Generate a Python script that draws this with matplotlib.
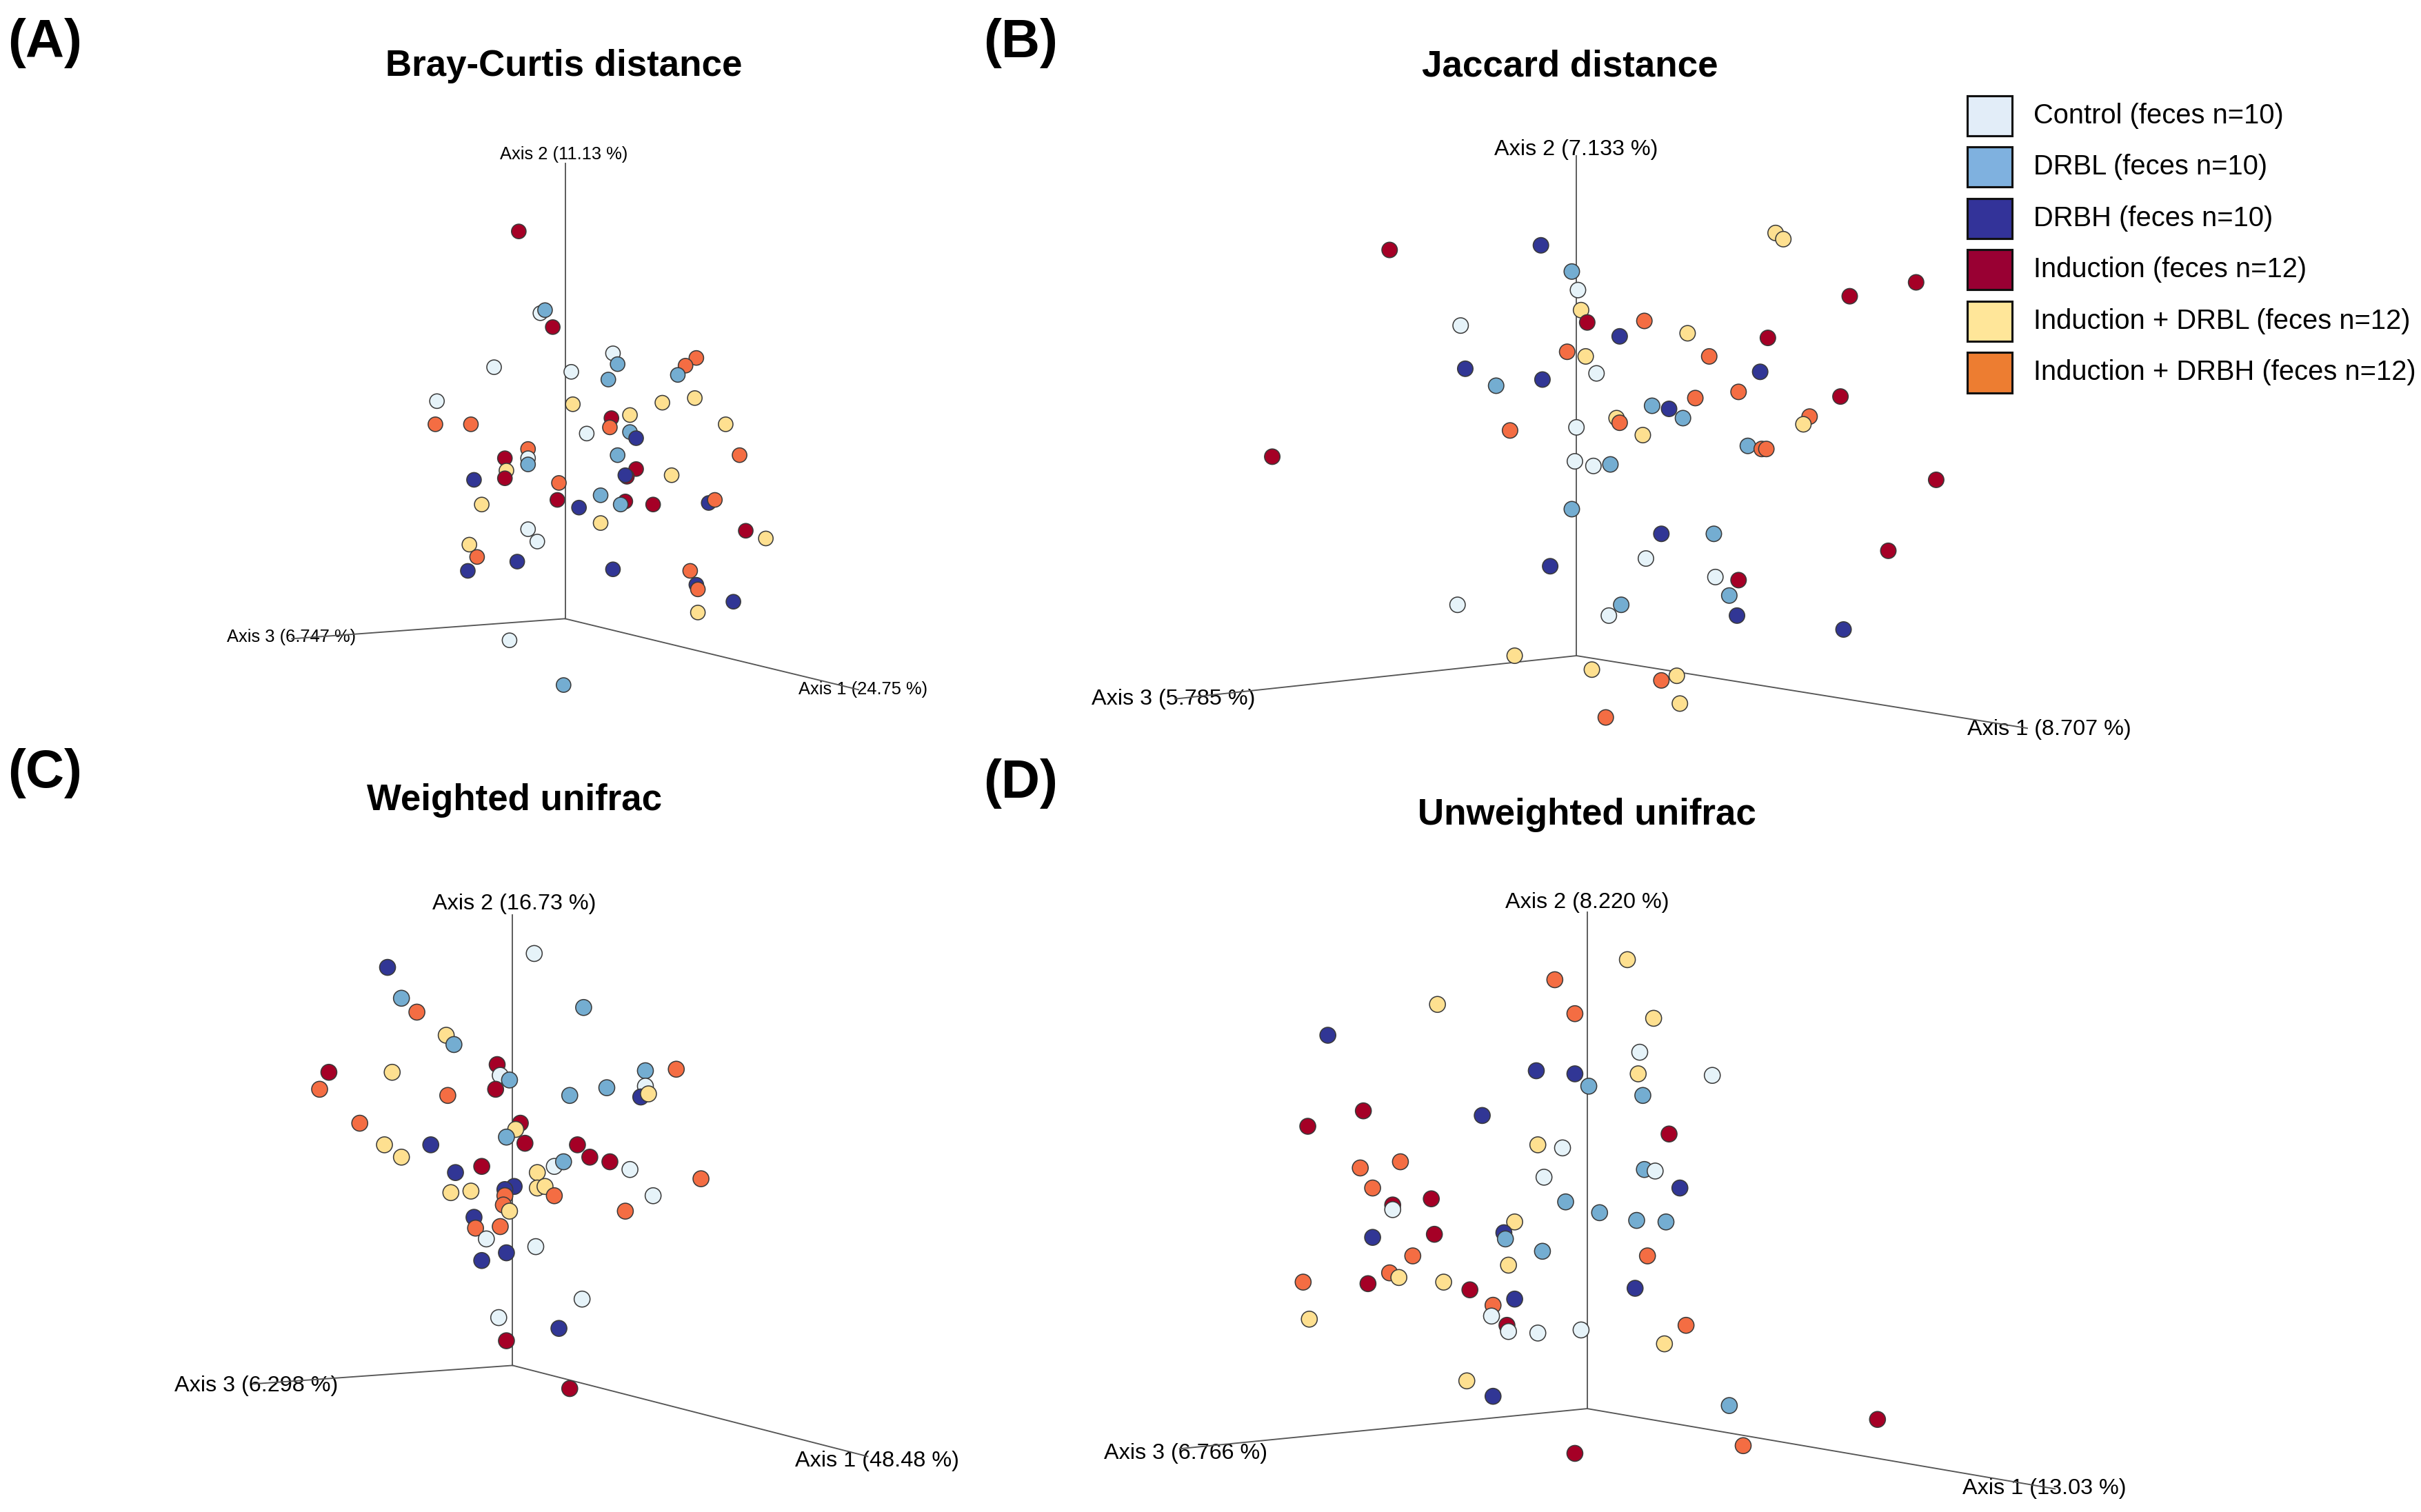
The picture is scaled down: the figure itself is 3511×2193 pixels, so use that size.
import matplotlib
matplotlib.use("Agg")
import matplotlib.pyplot as plt
from matplotlib.patches import Rectangle

plt.rcParams['font.family'] = ['Liberation Sans', 'DejaVu Sans']

# reference grid (the picture scaled to 1568 px wide)
W, H = 1568, 980

groups = ['Control (feces n=10)', 'DRBL (feces n=10)', 'DRBH (feces n=10)',
          'Induction (feces n=12)', 'Induction + DRBL (feces n=12)',
          'Induction + DRBH (feces n=12)']
point_colors = ['#E6F3F9', '#74ADD1', '#313695', '#A50026', '#FEE090', '#F46D43']
legend_colors = ['#E2EDF8', '#7FB1DF', '#333399', '#990033', '#FFE699', '#ED7D31']

# projected PCoA positions per panel (x, y in picture grid) and group code
a_x = [336, 350, 353, 358, 397, 400, 320, 370, 394, 451, 444, 439, 283, 371, 429, 450, 282, 305, 396, 395,
       408, 470, 380, 408, 412, 342, 327, 342, 342, 328, 327, 307, 400, 412, 406, 405, 435, 479, 362, 361,
       375, 389, 405, 402, 423, 459, 463, 312, 389, 342, 348, 483, 496, 304, 309, 335, 303, 397, 447, 451,
       452, 475, 452, 330, 365]
a_y = [150, 203, 201, 212, 229, 236, 238, 241, 246, 232, 237, 243, 260, 262, 261, 258, 275, 275, 271, 277,
       269, 275, 281, 280, 284, 291, 297, 297, 301, 305, 310, 311, 295, 304, 309, 308, 308, 295, 313, 324,
       329, 321, 325, 327, 327, 326, 324, 327, 339, 343, 351, 344, 349, 353, 361, 364, 370, 369, 370, 379,
       382, 390, 397, 415, 444]
a_g = [3, 0, 1, 3, 0, 1, 0, 0, 1, 5, 5, 1, 0, 4, 4, 4, 5, 5, 3, 5,
       4, 4, 0, 1, 2, 5, 3, 0, 1, 4, 3, 2, 1, 3, 3, 2, 4, 5, 5, 3,
       2, 1, 3, 1, 3, 2, 5, 4, 4, 0, 0, 3, 4, 4, 5, 2, 2, 2, 5, 2,
       5, 2, 4, 0, 1]

b_x = [900, 998, 1018, 1022, 1150, 1155, 1241, 1198, 946, 1024, 1028, 1065, 1049, 1093, 1145, 1015, 1027, 1107,
       949, 969, 999, 1034, 1140, 1126, 1192, 1070, 1081, 1098, 1090, 1047, 1049, 1064, 1021, 978, 1172, 1168,
       824, 1132, 1141, 1144, 1020, 1032, 1043, 1254, 1018, 1076, 1110, 1066, 1223, 1004, 1111, 1126, 1120,
       944, 1050, 1042, 1125, 1194, 981, 1031, 1086, 1076, 1088, 1040]
b_y = [162, 159, 176, 188, 151, 155, 183, 192, 211, 201, 209, 208, 218, 216, 219, 228, 231, 231,
       239, 250, 246, 242, 241, 254, 257, 263, 265, 258, 271, 271, 274, 282, 277, 279, 270, 275,
       296, 289, 291, 291, 299, 302, 301, 311, 330, 346, 346, 362, 357, 367, 374, 376, 386,
       392, 392, 399, 399, 408, 425, 434, 438, 441, 456, 465]
b_g = [3, 2, 1, 0, 4, 4, 3, 3, 0, 4, 3, 5, 2, 4, 3, 5, 4, 5,
       2, 1, 2, 0, 2, 5, 3, 1, 2, 5, 1, 4, 5, 4, 0, 5, 5, 4,
       3, 1, 5, 5, 0, 0, 1, 3, 1, 2, 1, 0, 3, 2, 0, 3, 1,
       0, 1, 0, 2, 2, 4, 4, 4, 5, 4, 5]

c_x = [346, 251, 260, 270, 378, 289, 294, 213, 254, 207, 322, 324, 330, 321, 290, 418, 438, 418, 415, 420,
       393, 369, 233, 337, 334, 328, 340, 249, 279, 260, 374, 382, 395, 359, 365, 408, 295, 312, 454, 348,
       333, 327, 348, 353, 359, 292, 305, 423, 327, 326, 330, 405, 307, 308, 324, 315, 347, 328, 312, 377,
       323, 362, 328, 369]
c_y = [618, 627, 647, 656, 653, 671, 677, 695, 695, 706, 690, 697, 700, 706, 710, 694, 693, 704, 711, 709,
       705, 710, 728, 728, 732, 737, 741, 742, 742, 750, 742, 750, 753, 756, 753, 758, 760, 756, 764, 760,
       769, 771, 770, 769, 775, 773, 772, 775, 775, 781, 785, 785, 789, 796, 795, 803, 808, 812, 817, 842,
       854, 861, 869, 900]
c_g = [0, 2, 1, 5, 1, 4, 1, 3, 4, 5, 3, 0, 1, 3, 5, 1, 5, 0, 2, 4,
       1, 1, 5, 3, 4, 1, 3, 4, 2, 4, 3, 3, 3, 0, 1, 0, 2, 3, 5, 4,
       2, 2, 4, 4, 5, 4, 4, 0, 5, 5, 4, 5, 2, 5, 5, 0, 0, 2, 2, 0,
       0, 2, 3, 3]

d_x = [1054, 1007, 931, 1020, 1071, 860, 1062, 995, 1020, 1061, 1109, 1029, 1064, 883, 960, 847, 1081, 996,
       1012, 907, 881, 1065, 1072, 1000, 1088, 889, 927, 902, 902, 1014, 1036, 1060, 1079, 981, 889, 929,
       974, 975, 999, 915, 1067, 977, 844, 886, 900, 906, 935, 952, 981, 1059, 967, 966, 976, 977, 996,
       1024, 1092, 848, 1078, 950, 967, 1120, 1216, 1129, 1020]
d_y = [622, 635, 651, 657, 660, 671, 682, 694, 696, 696, 697, 704, 710, 720, 723, 730, 735, 742,
       744, 753, 757, 758, 759, 763, 770, 770, 777, 781, 784, 779, 786, 791, 792, 792, 802, 800,
       799, 803, 811, 814, 814, 820, 831, 832, 825, 828, 831, 836, 842, 835, 846, 853, 859, 863, 864,
       862, 859, 855, 871, 895, 905, 911, 920, 937, 942]
d_g = [4, 5, 4, 5, 4, 2, 0, 2, 2, 4, 0, 1, 1, 3, 2, 3, 3, 4,
       0, 5, 5, 1, 0, 0, 2, 5, 3, 3, 0, 1, 1, 1, 1, 4, 2, 3,
       2, 1, 1, 5, 5, 4, 5, 3, 5, 4, 4, 3, 2, 2, 5, 0, 3, 0, 0,
       0, 5, 4, 4, 4, 2, 1, 3, 5, 3]

titles = ['Bray-Curtis distance', 'Jaccard distance', 'Weighted unifrac', 'Unweighted unifrac']
tags = ['(A)', '(B)', '(C)', '(D)']
axis1_labels = ['Axis 1 (24.75 %)', 'Axis 1 (8.707 %)', 'Axis 1 (48.48 %)', 'Axis 1 (13.03 %)']
axis2_labels = ['Axis 2 (11.13 %)', 'Axis 2 (7.133 %)', 'Axis 2 (16.73 %)', 'Axis 2 (8.220 %)']
axis3_labels = ['Axis 3 (6.747 %)', 'Axis 3 (5.785 %)', 'Axis 3 (6.298 %)', 'Axis 3 (6.766 %)']

panels = [
    dict(x=a_x, y=a_y, g=a_g, origin=(366, 401), top=(366, 106), end3=(189, 414), end1=(556, 447),
         title_xy=(365, 43), tag_xy=(5, 28), lab2=(365, 100), lab3=(147, 413), lab1=(517, 447),
         fs=8.2, s=46),
    dict(x=b_x, y=b_y, g=b_g, origin=(1021, 425), top=(1021, 101), end3=(761, 453), end1=(1313, 472),
         title_xy=(1017, 43), tag_xy=(637, 28), lab2=(1021, 97), lab3=(707, 453), lab1=(1274, 473),
         fs=10.4, s=52),
    dict(x=c_x, y=c_y, g=c_g, origin=(332, 885), top=(332, 593), end3=(164, 897), end1=(562, 944),
         title_xy=(333, 519), tag_xy=(5, 501), lab2=(333, 586), lab3=(113, 898), lab1=(515, 947),
         fs=10.4, s=55),
    dict(x=d_x, y=d_y, g=d_g, origin=(1028, 913), top=(1028, 591), end3=(764, 939), end1=(1331, 965),
         title_xy=(1028, 528), tag_xy=(637, 508), lab2=(1028, 585), lab3=(715, 942), lab1=(1271, 965),
         fs=10.4, s=55),
]

fig = plt.figure(figsize=(3511 / 224, 2193 / 224), dpi=224)
ax = fig.add_axes([0, 0, 1, 1])
ax.set_xlim(0, W)
ax.set_ylim(H, 0)
ax.axis('off')

for i, p in enumerate(panels):
    ox, oy = p['origin']
    # the three axes of the 3D view
    for ex, ey in [p['top'], p['end3'], p['end1']]:
        ax.plot([ox, ex], [oy, ey], color='#555555', lw=0.6, zorder=2)
    ax.text(*p['lab2'], axis2_labels[i], fontsize=p['fs'], ha='center', va='center', zorder=1)
    ax.text(*p['lab3'], axis3_labels[i], fontsize=p['fs'], ha='left', va='center', zorder=1)
    ax.text(*p['lab1'], axis1_labels[i], fontsize=p['fs'], ha='left', va='center', zorder=1)
    ax.text(*p['title_xy'], titles[i], fontsize=17, fontweight='bold', ha='center', va='center')
    ax.text(*p['tag_xy'], tags[i], fontsize=25, fontweight='bold', ha='left', va='center')

    cols = [point_colors[k] for k in p['g']]
    ax.scatter(p['x'], p['y'], s=p['s'], c=cols, edgecolors='#3a3a3a', linewidths=0.5, zorder=3)

# legend
for k, name in enumerate(groups):
    yc = 75 + k * 33.3
    ax.add_patch(Rectangle((1274, yc - 13), 29, 26, facecolor=legend_colors[k],
                           edgecolor='#111111', lw=1.0, zorder=4))
    ax.text(1317, yc, name, fontsize=12.8, ha='left', va='center')

fig.savefig('out.png', dpi=224)
